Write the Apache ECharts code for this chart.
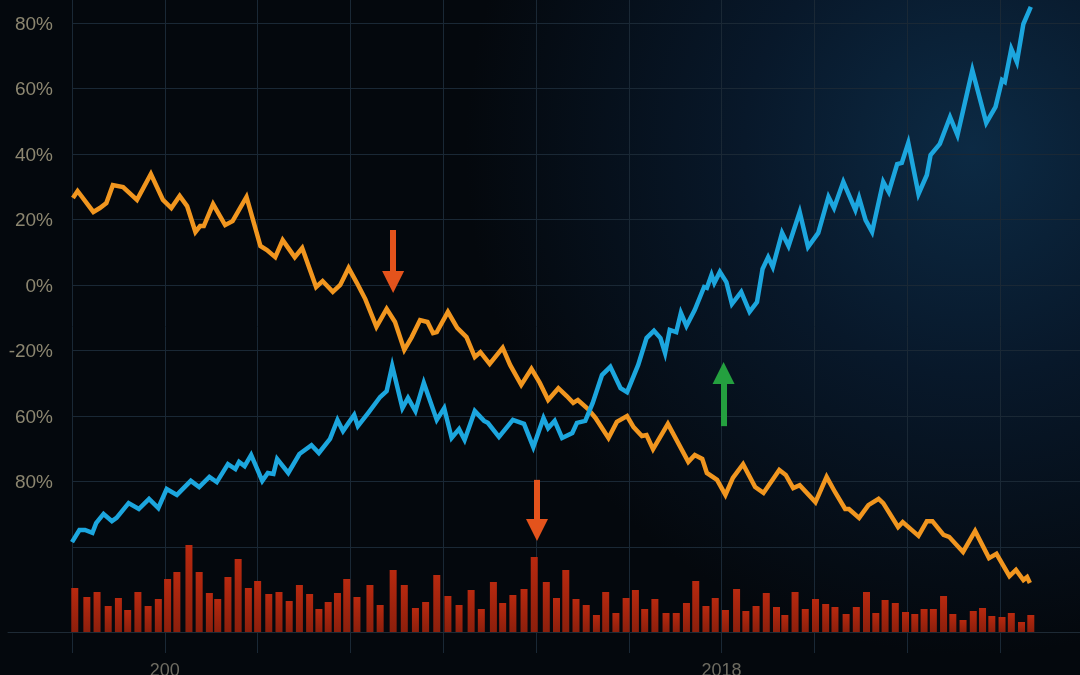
<!DOCTYPE html>
<html>
<head>
<meta charset="utf-8">
<script src="https://cdn.jsdelivr.net/npm/echarts@6/dist/echarts.min.js"></script>
<style>
html,body{margin:0;padding:0;background:#05090f;}
#chart{width:1080px;height:675px;}
</style>
</head>
<body>
<div id="chart"></div>
<script>
// ---- data ----
const yTickLabels = ['80%','60%','40%','20%','0%','-20%','60%','80%',''];
const xTickLabels = ['','200','','','','','','2018','','',''];

// orange series: [time, value]
const orangeT = [0.1,0.6,2.3,3.0,3.7,4.4,5.5,7.0,8.5,9.8,10.7,11.6,12.4,13.3,13.8,14.2,15.2,16.5,17.3,18.8,20.3,21.0,21.9,22.7,24.0,24.8,26.3,27.0,28.1,28.9,29.8,30.7,31.6,32.8,33.9,34.8,35.8,36.6,37.5,38.3,38.9,39.3,40.5,41.5,42.5,43.4,44.0,45.0,46.4,47.2,48.4,49.5,50.4,51.3,52.4,53.3,54.0,54.5,55.6,56.4,57.8,58.7,59.8,60.5,61.4,61.9,62.6,64.2,66.4,67.1,67.9,68.4,69.5,70.4,71.2,72.3,73.6,74.5,76.2,76.9,77.7,78.4,80.1,81.3,82.2,83.3,83.7,84.8,85.8,86.9,87.4,89.0,89.5,91.2,92.1,92.7,93.9,94.5,96.0,97.3,98.8,99.6,101.0,101.7,102.5,102.9,103.2];
const orangeV = [26.6,28.7,22.3,23.5,25.0,30.5,29.9,26.0,33.9,26.0,23.5,27.2,24.1,16.2,18.0,18.0,24.7,18.3,19.5,26.9,11.9,10.7,8.5,13.7,8.5,11.3,-0.6,1.2,-2.1,0.0,5.2,0.6,-4.3,-12.8,-7.3,-11.3,-19.8,-15.9,-10.7,-11.3,-14.7,-14.4,-8.2,-13.1,-15.9,-22.0,-20.5,-24.1,-19.2,-24.4,-30.5,-25.6,-29.9,-35.1,-31.5,-33.9,-36.0,-35.1,-37.9,-40.6,-46.7,-41.8,-40.0,-43.4,-46.1,-45.8,-50.1,-42.4,-54.0,-51.9,-53.1,-57.4,-59.5,-64.1,-58.9,-54.7,-61.7,-63.5,-56.5,-58.0,-62.0,-61.1,-66.3,-58.6,-63.2,-68.4,-68.4,-71.1,-67.2,-65.3,-66.6,-73.9,-72.4,-76.6,-72.1,-72.1,-76.3,-76.9,-81.5,-75.1,-83.4,-82.1,-88.9,-87.0,-90.1,-89.2,-91.0];

// blue series: [time, value]
const blueT = [0.0,0.8,1.4,2.2,2.6,3.4,4.3,4.8,6.1,7.2,8.3,9.3,10.2,11.3,12.8,13.7,14.8,15.6,16.8,17.6,18.0,18.6,19.3,20.5,21.1,21.7,22.1,23.3,24.5,25.8,26.6,27.8,28.6,29.2,29.8,30.4,30.8,31.9,33.2,33.9,34.5,35.6,36.2,37.0,37.9,39.3,40.1,40.9,41.7,42.3,43.4,44.4,44.8,46.0,47.5,48.7,49.7,50.8,51.3,52.0,52.8,53.9,54.4,55.3,56.1,57.1,58.0,59.1,59.8,61.0,61.9,62.7,63.4,63.9,64.4,65.1,65.6,66.2,67.1,68.1,68.4,68.9,69.2,69.8,70.5,71.1,72.1,73.0,73.8,74.4,75.0,75.5,76.5,77.2,78.4,79.3,80.4,81.5,82.1,83.1,84.4,84.8,85.5,86.2,87.4,88.0,88.9,89.4,90.1,91.2,92.1,92.5,93.5,94.6,95.4,97.0,98.5,99.5,100.2,100.5,101.2,101.8,102.5,103.3];
const blueV = [-78.5,-74.8,-74.8,-75.7,-72.7,-69.9,-72.1,-71.1,-66.6,-68.4,-65.3,-68.1,-62.3,-64.1,-59.8,-61.7,-58.6,-60.2,-54.7,-56.2,-54.0,-55.3,-51.9,-59.8,-57.4,-57.7,-53.1,-57.4,-51.6,-48.9,-51.3,-47.0,-41.2,-44.6,-42.1,-39.7,-43.1,-39.1,-34.2,-32.4,-24.7,-37.6,-34.5,-38.5,-29.9,-41.2,-37.6,-46.7,-44.0,-47.3,-38.5,-41.5,-42.1,-46.4,-41.2,-42.4,-49.5,-40.6,-43.7,-41.5,-46.7,-45.2,-42.1,-41.5,-36.0,-27.5,-25.0,-31.5,-32.7,-24.4,-16.2,-14.0,-16.2,-20.8,-13.7,-14.4,-8.5,-12.5,-7.6,-0.6,-0.9,3.1,0.6,4.0,0.9,-5.8,-2.1,-8.2,-5.2,4.9,8.5,5.5,15.9,11.9,22.3,11.6,15.9,26.9,23.5,31.5,22.9,26.6,19.8,16.2,31.5,28.4,36.9,37.3,43.4,27.8,33.6,39.7,43.1,51.3,45.8,65.6,49.5,54.4,62.6,62.0,72.1,68.1,79.7,84.9];

// volume bars: [time, volume]
const barT = [0.3,1.6,2.7,3.9,5.0,6.0,7.1,8.2,9.3,10.3,11.3,12.6,13.7,14.8,15.7,16.8,17.9,19.0,20.0,21.2,22.3,23.4,24.5,25.6,26.6,27.6,28.6,29.6,30.7,32.1,33.2,34.6,35.8,37.0,38.1,39.3,40.5,41.7,43.0,44.1,45.4,46.4,47.5,48.7,49.8,51.1,52.2,53.2,54.3,55.4,56.5,57.5,58.6,59.7,60.7,61.7,62.8,64.0,65.1,66.2,67.2,68.3,69.3,70.4,71.6,72.6,73.7,74.8,75.9,76.8,77.9,79.0,80.1,81.2,82.2,83.4,84.5,85.6,86.6,87.6,88.7,89.8,90.8,91.8,92.8,93.9,94.9,96.0,97.1,98.1,99.1,100.2,101.2,102.3,103.3];
const barV = [44,35,40,26,34,22,40,26,33,53,60,87,60,39,33,55,73,44,51,38,40,31,47,38,23,30,39,53,35,47,27,62,47,24,30,57,36,27,42,23,50,29,37,43,75,50,34,62,33,27,17,40,19,34,42,23,33,19,19,29,51,26,34,22,43,21,26,39,25,17,40,23,33,28,25,18,25,40,19,32,29,20,18,23,23,36,18,12,21,24,16,15,19,10,17];

// annotation arrows: [time, start value, end value]
const arrowDownA = [34.6, 16.8, 0.9];
const arrowDownB = [50.1, -59.5, -74.8];
const arrowUp = [70.2, -43.1, -26.9];

// ---- build ----
const zip = (a, b) => a.map((t, i) => [t, b[i]]);
const gridColor = '#1a2835';

function arrow(a, color) {
  return [
    { coord: [a[0], a[1]], symbol: 'none', lineStyle: { color: color, width: 6, type: 'solid' } },
    { coord: [a[0], a[2]], symbol: 'triangle', symbolSize: 22 }
  ];
}

const chart = echarts.init(document.getElementById('chart'), null, { renderer: 'canvas' });
chart.setOption({
  animation: false,
  backgroundColor: new echarts.graphic.RadialGradient(0.9, 0.22, 0.75, [
    { offset: 0, color: '#0c2a44' },
    { offset: 0.45, color: '#08182a' },
    { offset: 1, color: '#04080d' }
  ]),
  grid: [
    { left: 72, right: 80, top: 0, bottom: 22, outerBoundsMode: 'none', containLabel: false },
    { left: 72, right: 0, top: 23, bottom: 128, outerBoundsMode: 'none', containLabel: false },
    { left: 72, right: 0, top: 532, bottom: 43, outerBoundsMode: 'none', containLabel: false },
    { left: 8, right: 0, top: 600, bottom: 43, outerBoundsMode: 'none', containLabel: false }
  ],
  xAxis: [
    { gridIndex: 0, type: 'value', min: 0, max: 100, interval: 10,
      axisLine: { show: false }, axisTick: { show: false },
      splitLine: { show: true, lineStyle: { color: gridColor, width: 1 } },
      axisLabel: { formatter: v => xTickLabels[Math.round(v / 10)] || '', margin: 9, fontSize: 18,
        color: '#6e6c62', fontFamily: 'Liberation Sans, Arial, sans-serif' } },
    { gridIndex: 1, type: 'value', min: 0, max: 108.6, show: false, splitLine: { show: false } },
    { gridIndex: 2, type: 'value', min: 0, max: 108.6, show: false, splitLine: { show: false } },
    { gridIndex: 3, type: 'value', min: 0, max: 1,
      axisLine: { show: true, lineStyle: { color: '#1e2a35', width: 1 } },
      axisTick: { show: false }, axisLabel: { show: false }, splitLine: { show: false } }
  ],
  yAxis: [
    { gridIndex: 0, type: 'value', show: false, splitLine: { show: false } },
    { gridIndex: 1, type: 'value', min: -80, max: 80, interval: 20,
      axisLine: { show: false }, axisTick: { show: false },
      splitLine: { show: true, lineStyle: { color: gridColor, width: 1 } },
      axisLabel: { formatter: v => yTickLabels[Math.round((80 - v) / 20)] || '', margin: 19, fontSize: 19,
        verticalAlign: 'top', padding: [-8, 0, 0, 0],
        color: '#8c8670', fontFamily: 'Liberation Sans, Arial, sans-serif' } },
    { gridIndex: 2, type: 'value', min: 0, max: 100, show: false, splitLine: { show: false } },
    { gridIndex: 3, type: 'value', show: false, splitLine: { show: false } }
  ],
  series: [
    { type: 'bar', xAxisIndex: 2, yAxisIndex: 2, data: zip(barT, barV), barWidth: 7,
      itemStyle: { color: new echarts.graphic.LinearGradient(0, 0, 0, 1, [
        { offset: 0, color: '#b8290f' }, { offset: 1, color: '#8c1f0c' }]) } },
    { type: 'line', xAxisIndex: 1, yAxisIndex: 1, data: zip(orangeT, orangeV), symbol: 'none', clip: false,
      lineStyle: { color: '#f1961f', width: 4.5, join: 'miter' } },
    { type: 'line', xAxisIndex: 1, yAxisIndex: 1, data: zip(blueT, blueV), symbol: 'none', clip: false,
      lineStyle: { color: '#1ca6de', width: 4.5, join: 'miter' },
      markLine: { silent: true, animation: false, label: { show: false },
        emphasis: { disabled: true },
        data: [ arrow(arrowDownA, '#e4531c'), arrow(arrowDownB, '#e4531c'), arrow(arrowUp, '#24a03f') ] } }
  ]
});
</script>
</body>
</html>
